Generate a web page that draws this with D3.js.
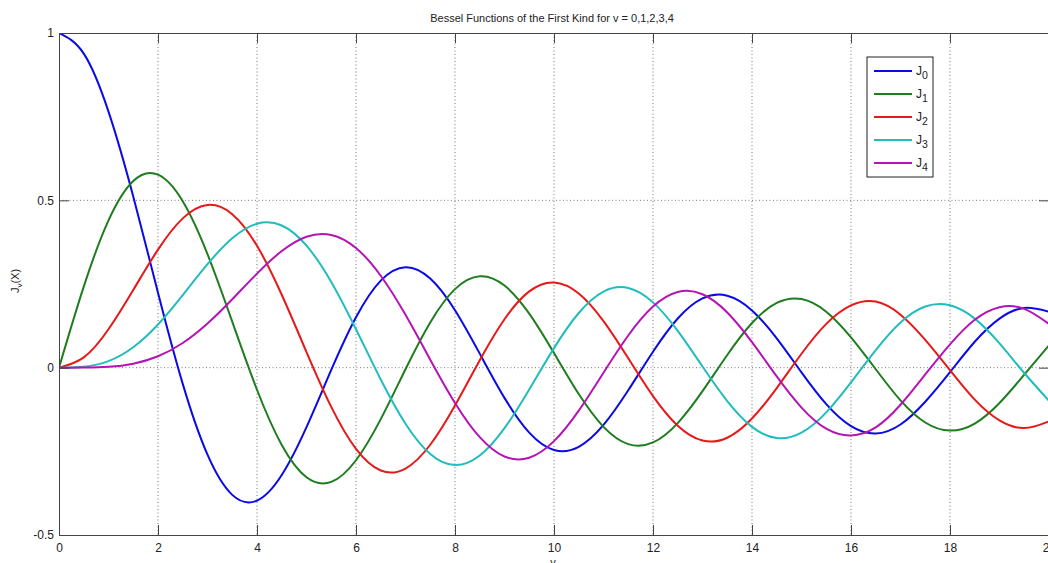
<!DOCTYPE html>
<meta charset="utf-8">
<style>
body { margin: 0; background: #fff; }
svg { font-family: "Liberation Sans", Arial, sans-serif; }
.grid line { stroke: #777; stroke-width: 1px; stroke-dasharray: 1,2.5; }
.axis path, .axis line { stroke: #444; }
.axis text { fill: #222; font-size: 12px; }
.curve { fill: none; stroke-width: 2px; }
</style>
<svg width="1048" height="563"></svg>
<script src="https://cdn.jsdelivr.net/npm/d3@7"></script>
<script>

// x sampled every 0.5 from 0 to 20
var xs = d3.range(0, 20.01, 0.5);

var j0 = [1, 0.9385, 0.7652, 0.5118, 0.2239, -0.0484, -0.2601, -0.3801, -0.3971, -0.3205,
  -0.1776, -0.0068, 0.1506, 0.2601, 0.3001, 0.2663, 0.1717, 0.0419, -0.0903, -0.1939,
  -0.2459, -0.2366, -0.1712, -0.0677, 0.0477, 0.1469, 0.2069, 0.2150, 0.1711, 0.0875,
  -0.0142, -0.1092, -0.1749, -0.1969, -0.1699, -0.1018, -0.0134, 0.0775, 0.1466, 0.1784, 0.1670];
var j1 = [0, 0.2423, 0.4401, 0.5579, 0.5767, 0.4971, 0.3391, 0.1374, -0.0660, -0.2311,
  -0.3276, -0.3414, -0.2767, -0.1538, -0.0047, 0.1352, 0.2346, 0.2731, 0.2453, 0.1613,
  0.0435, -0.0789, -0.1768, -0.2284, -0.2234, -0.1655, -0.0703, 0.0380, 0.1334, 0.1934,
  0.2051, 0.1672, 0.0904, -0.0047, -0.0977, -0.1638, -0.1880, -0.1672, -0.1057, -0.0211, 0.0668];
var j2 = [0, 0.0306, 0.1149, 0.2321, 0.3528, 0.4461, 0.4861, 0.4586, 0.3641, 0.2178,
  0.0466, -0.1173, -0.2429, -0.3074, -0.3014, -0.2303, -0.1130, 0.0223, 0.1448, 0.2279,
  0.2546, 0.2216, 0.1390, 0.0280, -0.0849, -0.1734, -0.2177, -0.2094, -0.1520, -0.0609,
  0.0416, 0.1308, 0.1862, 0.1975, 0.1584, 0.0831, -0.0075, -0.0956, -0.1578, -0.1806, -0.1603];
var j3 = [0, 0.0026, 0.0196, 0.0610, 0.1289, 0.2167, 0.3091, 0.3867, 0.4302, 0.4247,
  0.3648, 0.2561, 0.1148, -0.0354, -0.1676, -0.2580, -0.2911, -0.2626, -0.1809, -0.0653,
  0.0584, 0.1633, 0.2273, 0.2381, 0.1951, 0.1100, 0.0033, -0.1000, -0.1768, -0.2102,
  -0.1940, -0.1334, -0.0438, 0.0526, 0.1350, 0.1828, 0.1863, 0.1465, 0.0725, -0.0159, -0.0989];
var j4 = [0, 0.0002, 0.0025, 0.0118, 0.0340, 0.0738, 0.1320, 0.2044, 0.2811, 0.3484,
  0.3912, 0.3967, 0.3576, 0.2747, 0.1578, 0.0239, -0.1054, -0.2077, -0.2655, -0.2691,
  -0.2196, -0.1283, -0.0150, 0.0962, 0.1825, 0.2262, 0.2193, 0.1650, 0.0762, -0.0261,
  -0.1192, -0.1824, -0.2026, -0.1784, -0.1108, -0.0204, 0.0696, 0.1431, 0.1807, 0.1757, 0.1306];

var names = ["0", "1", "2", "3", "4"];
var colors = ["#0a0ae6", "#1e7d1e", "#e81818", "#22bcbc", "#b414b4"];
var series = [j0, j1, j2, j3, j4];

var xTicks = d3.range(0, 21, 2);
var yTicks = [-0.5, 0, 0.5, 1];

var svg = d3.select("svg"),
    margin = {top: 33, right: -1, bottom: 28, left: 59},
    width = +svg.attr("width") - margin.left - margin.right,
    height = +svg.attr("height") - margin.top - margin.bottom,
    g = svg.append("g").attr("transform", "translate(" + margin.left + "," + margin.top + ")");

var x = d3.scaleLinear().domain([0, 20]).range([0, width]);
var y = d3.scaleLinear().domain([-0.5, 1]).range([height, 0]);

// dotted grid
var grid = g.append("g").attr("class", "grid");
grid.selectAll(".gx").data(xTicks.slice(1, -1)).enter().append("line")
    .attr("x1", x).attr("x2", x).attr("y1", 0).attr("y2", height);
grid.selectAll(".gy").data(yTicks.slice(1, -1)).enter().append("line")
    .attr("y1", y).attr("y2", y).attr("x1", 0).attr("x2", width);

g.append("clipPath").attr("id", "clip")
  .append("rect").attr("width", width).attr("height", height);

var line = d3.line()
    .x(function(d) { return x(d[0]); })
    .y(function(d) { return y(d[1]); })
    .curve(d3.curveNatural);

g.append("g").attr("clip-path", "url(#clip)")
  .selectAll("path")
  .data(series)
  .enter().append("path")
    .attr("class", "curve")
    .attr("stroke", function(d, i) { return colors[i]; })
    .attr("d", function(d) { return line(d.map(function(v, k) { return [xs[k], v]; })); });

// axes box with inward ticks
g.append("g").attr("class", "axis")
    .attr("transform", "translate(0," + height + ")")
    .call(d3.axisBottom(x).tickValues(xTicks).tickSizeInner(-10).tickSizeOuter(0).tickPadding(6))
    .selectAll("text").attr("dy", "0.95em");
g.append("g").attr("class", "axis")
    .call(d3.axisTop(x).tickValues(xTicks).tickSizeInner(-10).tickSizeOuter(0).tickFormat(""));
g.append("g").attr("class", "axis")
    .call(d3.axisLeft(y).tickValues(yTicks).tickSizeInner(-10).tickSizeOuter(0).tickPadding(5)
      .tickFormat(function(d) { return d; }));
g.append("g").attr("class", "axis")
    .attr("transform", "translate(" + width + ",0)")
    .call(d3.axisRight(y).tickValues(yTicks).tickSizeInner(-10).tickSizeOuter(0).tickFormat(""));

// title and axis labels
svg.append("text")
    .attr("x", 552).attr("y", 22)
    .attr("text-anchor", "middle")
    .style("font-size", "11px").attr("fill", "#222")
    .text("Bessel Functions of the First Kind for v = 0,1,2,3,4");

svg.append("text")
    .attr("x", 553).attr("y", 566)
    .attr("text-anchor", "middle")
    .style("font-size", "11px").attr("fill", "#222")
    .text("v");

var ylab = svg.append("text")
    .attr("transform", "translate(19,281) rotate(-90)")
    .attr("text-anchor", "middle")
    .style("font-size", "11px").attr("fill", "#222");
ylab.append("tspan").text("J");
ylab.append("tspan").attr("dy", 3).style("font-size", "8px").text("v");
ylab.append("tspan").attr("dy", -3).text("(X)");

// legend
var legend = svg.append("g").attr("transform", "translate(867,57)");
legend.append("rect")
    .attr("width", 66).attr("height", 120)
    .attr("fill", "#fff").attr("stroke", "#222");
var item = legend.selectAll(".item").data(names).enter().append("g")
    .attr("transform", function(d, i) { return "translate(0," + (14 + i * 23) + ")"; });
item.append("line")
    .attr("x1", 7).attr("x2", 45)
    .attr("stroke", function(d, i) { return colors[i]; })
    .attr("stroke-width", 2);
var lt = item.append("text")
    .attr("x", 49).attr("y", 4)
    .style("font-size", "12px").attr("fill", "#222");
lt.append("tspan").text("J");
lt.append("tspan").attr("dy", 4).style("font-size", "10.5px").text(function(d) { return d; });

</script>
